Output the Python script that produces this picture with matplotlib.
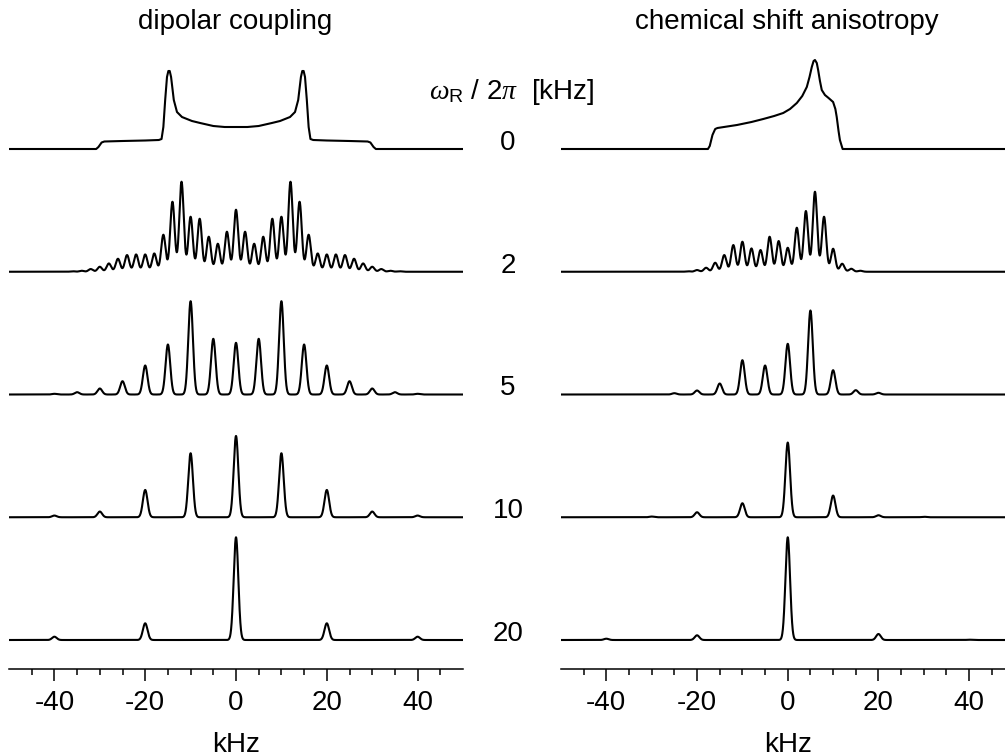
import numpy as np
import matplotlib
matplotlib.use("Agg")
import matplotlib.pyplot as plt
from matplotlib.ticker import FixedLocator

plt.rcParams['font.family'] = ['Liberation Sans', 'DejaVu Sans']
plt.rcParams['mathtext.fontset'] = 'custom'
plt.rcParams['mathtext.rm'] = 'Liberation Sans'
plt.rcParams['mathtext.it'] = 'Liberation Serif:italic'
plt.rcParams['axes.unicode_minus'] = False

# spinning rates (kHz), one row each, top to bottom
rates = [0, 2, 5, 10, 20]
row_labels = ["0", "2", "5", "10", "20"]

# static powder patterns (kHz, intensity)
dip_static_x = [-50, -30.8, -30.3, -29.6, -29.0, -25, -20, -17.0, -16.4, -16.0, -15.6, -15.2, -14.9,
                -14.6, -14.3, -13.7, -13.0, -11.9, -10.8, -9.7, -7.9, -5.0, -2.5, 0,
                2.5, 5.0, 7.9, 9.7, 10.8, 11.9, 13.0, 13.7, 14.3, 14.6, 14.9, 15.2, 15.6,
                16.0, 16.4, 17.0, 20, 25, 29.0, 29.6, 30.3, 30.8, 50]
dip_static_y = [0, 0, 2, 6.5, 7.5, 8, 8.5, 9, 10, 22, 49, 72, 78,
                78, 72, 49, 37, 32, 30, 28, 26, 23, 22, 22,
                22, 23, 26, 28, 30, 32, 37, 49, 72, 78, 78, 72, 49,
                22, 10, 9, 8.5, 8, 7.5, 6.5, 2, 0, 0]

csa_static_x = [-50, -17.6, -17.2, -16.6, -16.0, -15.5, -11.2, -8.0, -5.4, -3.0, -1.0, 0.5, 2.0,
                3.2, 4.2, 4.8, 5.3, 5.7, 6.0, 6.4, 6.7, 7.1, 7.5, 8.2, 9.0, 10.0, 10.5,
                10.8, 11.2, 11.5, 12.1, 50]
csa_static_y = [0, 0, 3, 14, 20, 21, 24, 27, 30, 33, 36, 40, 46,
                53, 62, 72, 82, 88, 89, 86, 79, 68, 59, 54, 51, 47, 40,
                32, 18, 9, 0, 0]

# sideband intensities, listed from the lowest sideband order upward
dip_first = [-18, -8, -4, -2]
dip_sb = [
    [0.5, 1, 2.7, 5, 8.3, 13, 16.7, 17.3, 17.3, 18.3, 37, 70, 90, 55, 53, 35, 28, 40,
     62, 40, 28, 35, 53, 55, 90, 70, 37, 18.3, 17.3, 17.3, 16.7, 13, 8.3, 5, 2.7, 1, 0.5],
    [0.7, 2.3, 6, 13.3, 29, 50, 93.3, 55.7, 51.7, 55.7, 93.3, 50, 29, 13.3, 6, 2.3, 0.7],
    [1.7, 5.7, 27.3, 64, 81.3, 64, 27.3, 5.7, 1.7],
    [3.3, 16.7, 102.7, 16.7, 3.3],
]
csa_first = [-11, -5, -3, -2]
csa_sb = [
    [0.5, 1.7, 4, 9, 16.7, 26.7, 30, 23.3, 21.7, 35, 30.7, 24, 44, 60.7, 80, 55, 23, 8, 3, 1],
    [1.3, 4, 11, 34.3, 29, 50.7, 84, 24.3, 4.3, 1.7],
    [0.7, 5, 14, 74.7, 21.7, 2, 0.5],
    [1.3, 4.7, 102.7, 6, 0.3],
]

x = np.linspace(-50, 50, 5001)


def spectrum(rate, first, heights, fwhm):
    sig = fwhm / 2.3548
    y = np.zeros_like(x)
    for i, h in enumerate(heights):
        pos = (first + i) * rate
        y += h * np.exp(-(x - pos) ** 2 / (2 * sig ** 2))
    return y


fig = plt.figure(figsize=(10.05, 7.56), dpi=100)
W, H = 1005.0, 756.0
ax_bot = 669.3
ax_h = 629.0
base0 = 29.3
step = 122.75

axl = fig.add_axes([9 / W, (H - ax_bot) / H, 454 / W, ax_h / H])
axr = fig.add_axes([561 / W, (H - ax_bot) / H, 453.5 / W, ax_h / H])

for ax, sx, sy, first, sb in [(axl, dip_static_x, dip_static_y, dip_first, dip_sb),
                              (axr, csa_static_x, csa_static_y, csa_first, csa_sb)]:
    off = base0 + 4 * step
    ax.plot(sx, np.array(sy) + off, color='black', lw=1.5)
    for k in range(1, 5):
        off = base0 + (4 - k) * step
        fw = 1.15 if rates[k] == 2 else 1.2
        ax.plot(x, spectrum(rates[k], first[k - 1], sb[k - 1], fw) + off, color='black', lw=1.5)
    ax.set_xlim(-50, 50)
    ax.set_ylim(0, ax_h)
    for sp in ['top', 'left', 'right']:
        ax.spines[sp].set_visible(False)
    ax.spines['bottom'].set_linewidth(1.1)
    ax.set_yticks([])
    ax.set_xticks([-40, -20, 0, 20, 40])
    ax.xaxis.set_minor_locator(FixedLocator([-45, -35, -30, -25, -15, -10, -5, 5, 10, 15, 25, 30, 35, 45]))
    ax.tick_params(axis='x', which='major', length=8.6, width=1.1, labelsize=20, pad=6.5)
    ax.tick_params(axis='x', which='minor', length=4.6, width=1.1)
    ax.set_xlabel("kHz", fontsize=20, labelpad=11)
    ax.patch.set_alpha(0)

fig.text(235 / W, 1 - 22 / H, "dipolar coupling", fontsize=20, ha='center', va='center')
fig.text(787 / W, 1 - 22 / H, "chemical shift anisotropy", fontsize=20, ha='center', va='center')
fig.text(512 / W, 1 - 92 / H, r"$\omega_{\mathrm{R}}$ / 2$\pi$  [kHz]", fontsize=20, ha='center', va='center')

for k, lab in enumerate(row_labels):
    yb = ax_bot - (base0 + (4 - k) * step) - 6
    fig.text(508 / W, 1 - yb / H, lab, fontsize=20, ha='center', va='center')

fig.savefig("out.png", dpi=100)
